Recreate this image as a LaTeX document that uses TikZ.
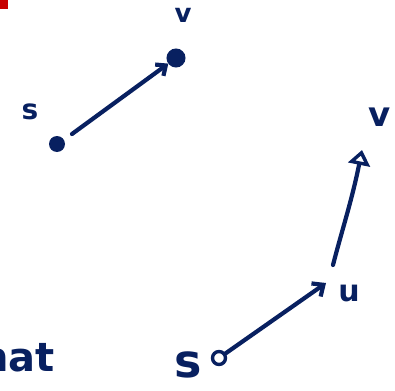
\documentclass[tikz,border=0pt]{standalone}
\usepackage{fontspec}
\setmainfont{DejaVu Sans}
\usetikzlibrary{arrows.meta}
\definecolor{ink}{RGB}{8,32,96}
\definecolor{redmark}{RGB}{200,0,0}
\begin{document}
\begin{tikzpicture}[x=1pt,y=-1pt,
  pen/.style={draw=ink,line width=4.2pt,line cap=round},
  lbl/.style={text=ink,inner sep=0pt,font=\bfseries},
  dotnode/.style={circle,fill=ink,inner sep=0pt,minimum size=16pt},
  ringnode/.style={circle,draw=ink,line width=3.4pt,inner sep=0pt,minimum size=13pt}]
\useasboundingbox (0,0) rectangle (395,390);
\clip (0,0) rectangle (395,390);
% red mark
\fill[redmark] (0,0) rectangle (8,9);
% top graph
\node[dotnode] (s1) at (57,144) {};
\node[circle,draw=ink,fill=ink,line width=3pt,inner sep=0pt,minimum size=16pt] (v1) at (176,58) {};
\node[lbl,font=\fontsize{28}{28}\selectfont\bfseries] (ls1) at (30,112) {s};
\node[lbl,font=\fontsize{26}{26}\selectfont\bfseries] (lv1) at (183,15) {v};
\draw[pen,-{Straight Barb[length=8pt,width=14pt]}] (72,134) -- (v1);
% bottom graph
\node[ringnode] (s2) at (219,358) {};
\coordinate (u2) at (326,283);
\coordinate (v2) at (362,150);
\node[lbl,font=\fontsize{46}{46}\selectfont\bfseries] (ls2) at (188,365) {s};
\node[lbl,font=\fontsize{30}{30}\selectfont\bfseries] (lu2) at (349,294) {u};
\node[lbl,font=\fontsize{34}{34}\selectfont\bfseries] (lv2) at (380,117) {v};
\draw[pen,-{Straight Barb[length=9pt,width=16pt]}] (s2) -- (u2);
\draw[pen,-{Triangle[open,length=15pt,width=22pt,line width=3.4pt]}] (333,265) .. controls (342,230) and (352,200) .. (v2);
% cut-off word
\node[lbl,font=\fontsize{40}{40}\selectfont\bfseries,anchor=base east] (word) at (55,371) {nat};
\end{tikzpicture}
\end{document}
